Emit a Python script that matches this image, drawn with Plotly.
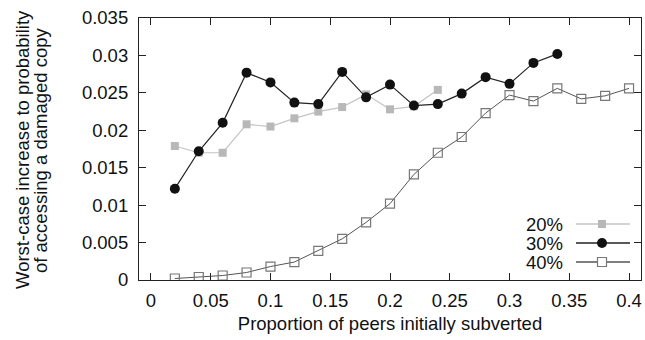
import plotly.graph_objects as go

x20 = [0.02, 0.04, 0.06, 0.08, 0.10, 0.12, 0.14, 0.16, 0.18, 0.20, 0.22, 0.24]
y20 = [0.0179, 0.0170, 0.0170, 0.0208, 0.0205, 0.0216, 0.0225, 0.0231, 0.0248, 0.0228, 0.0232, 0.0254]

x30 = [0.02, 0.04, 0.06, 0.08, 0.10, 0.12, 0.14, 0.16, 0.18, 0.20, 0.22, 0.24, 0.26, 0.28, 0.30, 0.32, 0.34]
y30 = [0.0122, 0.0172, 0.0210, 0.0277, 0.0264, 0.0237, 0.0235, 0.0278, 0.0244, 0.0261, 0.0233, 0.0235, 0.0249, 0.0271, 0.0262, 0.0290, 0.0302]

x40 = [0.02, 0.04, 0.06, 0.08, 0.10, 0.12, 0.14, 0.16, 0.18, 0.20, 0.22, 0.24, 0.26, 0.28, 0.30, 0.32, 0.34, 0.36, 0.38, 0.40]
y40 = [0.0002, 0.0004, 0.0006, 0.0010, 0.0018, 0.0024, 0.0039, 0.0055, 0.0077, 0.0102, 0.0141, 0.0170, 0.0191, 0.0223, 0.0247, 0.0239, 0.0256, 0.0242, 0.0246, 0.0256]

series_names = ["20%", "30%", "40%"]
xticks = [0, 0.05, 0.1, 0.15, 0.2, 0.25, 0.3, 0.35, 0.4]
xticklabels = ["0", "0.05", "0.1", "0.15", "0.2", "0.25", "0.3", "0.35", "0.4"]
yticks = [0, 0.005, 0.01, 0.015, 0.02, 0.025, 0.03, 0.035]
yticklabels = ["0", "0.005", "0.01", "0.015", "0.02", "0.025", "0.03", "0.035"]
ytitle_lines = ["Worst-case increase to probability", "of accessing a damaged copy"]
xtitle = "Proportion of peers initially subverted"

FONT = "Liberation Sans, Arial, Helvetica, sans-serif"
FS = 18.5
TXT = "#111111"

styles = [
    dict(line=dict(color="#c4c4c4", width=1.2),
         marker=dict(symbol="square", size=8, color="#b8b8b8", line=dict(width=0))),
    dict(line=dict(color="#222222", width=1.2),
         marker=dict(symbol="circle", size=10, color="#111111", line=dict(width=0))),
    dict(line=dict(color="#555555", width=1),
         marker=dict(symbol="square-open", size=9, color="#777777", line=dict(width=1.2))),
]

fig = go.Figure()
for (xs, ys), name, st in zip([(x20, y20), (x30, y30), (x40, y40)], series_names, styles):
    fig.add_trace(go.Scatter(x=xs, y=ys, mode="lines+markers", name=name,
                             line=st["line"], marker=st["marker"], showlegend=False))

W, H = 645, 340
L, R, T, B = 139, 4, 18, 60
pw, ph = W - L - R, H - T - B

def px(xp):
    return (xp - L) / pw

def py(yp):
    return 1 - (yp - T) / ph

# Custom gnuplot-style legend (text left of sample)
leg_rows = [224, 243, 262]
for name, st, yr in zip(series_names, styles, leg_rows):
    fig.add_annotation(x=px(565), y=py(yr), xref="paper", yref="paper",
                       text=name, showarrow=False, xanchor="right", yanchor="middle",
                       font=dict(family=FONT, size=FS, color=TXT))
    fig.add_shape(type="line", xref="paper", yref="paper",
                  x0=px(576), x1=px(630), y0=py(yr), y1=py(yr),
                  line=dict(color=st["line"]["color"], width=st["line"]["width"] + 0.4))
    m = st["marker"]
    if m["symbol"] == "circle":
        fig.add_shape(type="circle", xref="paper", yref="paper",
                      x0=px(597), x1=px(607), y0=py(yr + 5), y1=py(yr - 5),
                      fillcolor=m["color"], line=dict(width=0))
    elif m["symbol"] == "square":
        fig.add_shape(type="rect", xref="paper", yref="paper",
                      x0=px(598), x1=px(606), y0=py(yr + 4), y1=py(yr - 4),
                      fillcolor=m["color"], line=dict(width=0))
    else:
        fig.add_shape(type="rect", xref="paper", yref="paper",
                      x0=px(597.5), x1=px(606.5), y0=py(yr + 4.5), y1=py(yr - 4.5),
                      fillcolor="white", line=dict(color=m["color"], width=1.2))

# Y-axis title as two rotated lines (tight line spacing like the reference)
for line, xc in zip(ytitle_lines, [22, 40]):
    fig.add_annotation(x=px(xc), y=py(150), xref="paper", yref="paper",
                       text=line, showarrow=False, textangle=-90,
                       xanchor="center", yanchor="middle",
                       font=dict(family=FONT, size=FS, color=TXT))

axis_common = dict(showgrid=False, zeroline=False, showline=True, linecolor="#222222",
                   linewidth=1.2, mirror="ticks", ticks="inside", ticklen=7,
                   tickcolor="#222222", tickwidth=1.2,
                   tickfont=dict(family=FONT, size=FS, color=TXT))

fig.update_xaxes(range=[-0.01, 0.41], tickvals=xticks, ticktext=xticklabels,
                 ticklabelstandoff=4,
                 title=dict(text=xtitle, font=dict(family=FONT, size=FS, color=TXT), standoff=6),
                 **axis_common)
fig.update_yaxes(range=[0, 0.035], tickvals=yticks, ticktext=yticklabels,
                 ticklabelstandoff=6,
                 **axis_common)

fig.update_layout(width=W, height=H, margin=dict(l=L, r=R, t=T, b=B),
                  paper_bgcolor="white", plot_bgcolor="white",
                  font=dict(family=FONT, size=FS, color=TXT))

fig.write_html("out.html")
